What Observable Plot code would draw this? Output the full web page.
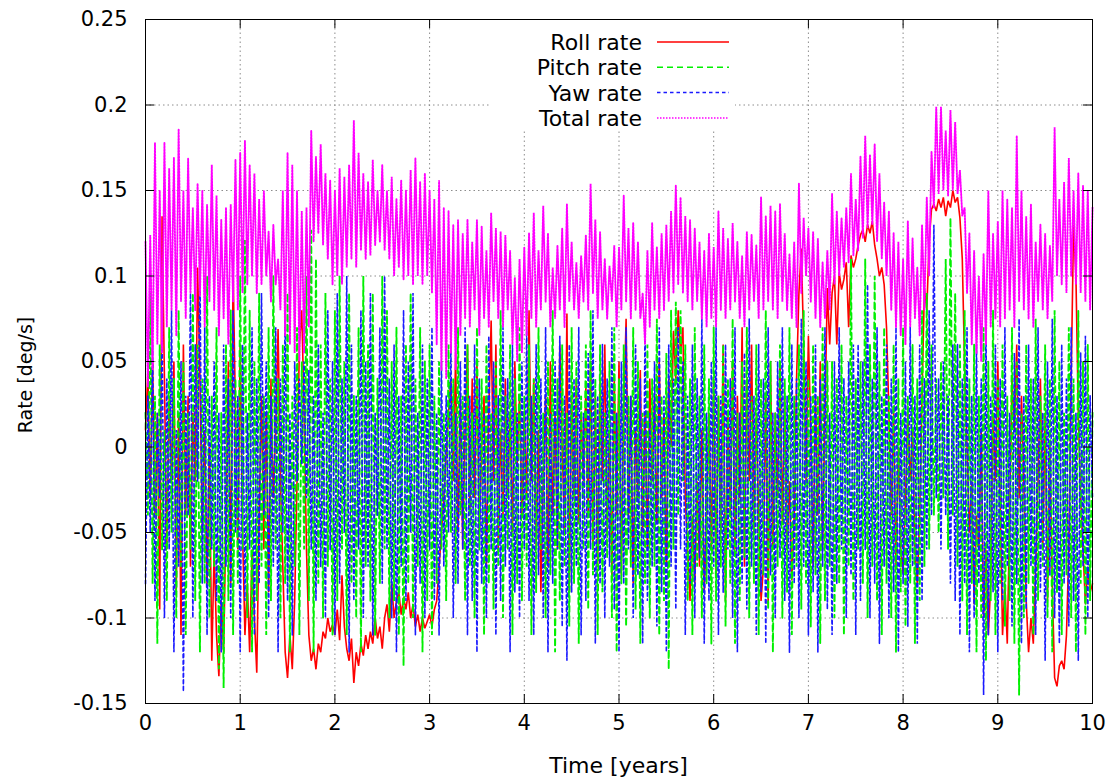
<!DOCTYPE html>
<html><head><meta charset="utf-8">
<script src="https://cdn.jsdelivr.net/npm/d3@7"></script>
<script src="https://cdn.jsdelivr.net/npm/@observablehq/plot@0.6"></script>
<style>html,body{margin:0;padding:0;background:#fff}#chart{width:1112px;height:778px}</style>
</head><body><div id="chart"></div>
<script>
// Samples every 0.025 years, values in units of 0.001 deg/s
const timeStep = 0.025;
const rollRate = [
10,45,-30,50,-40,20,-95,135,40,-60,30,-20,50,-85,20,-110,60,-40,30,-70,20,-20,105,40,-50,10,-81,0,-125,-60,-110,-134,-90,-120,-40,50,-80,105,20,-60,
60,-50,-110,-80,-120,-60,-100,-132,-40,30,-60,20,-85,40,-30,10,69,-20,-70,-120,-135,-110,-130,-90,-20,60,80,20,-60,-110,-125,-118,-130,-115,-120,-108,-112,-100,-108,-104,
-110,-95,-113,-75,-105,-118,-125,-112,-138,-120,-128,-115,-122,-110,-118,-108,-115,-100,-112,-105,-118,-100,-92,-108,-80,-100,-90,-85,-98,-88,-95,-85,-100,-92,-105,-98,-108,-100,-106,-102,
-98,-105,-95,-90,-70,-50,-30,-5,20,40,-20,55,-50,30,-60,10,60,-40,40,-30,50,-55,0,30,-70,20,74,-20,60,-60,10,-40,40,-30,20,-50,50,-10,30,-40,
20,-30,80,-20,40,-60,10,-85,-20,30,-70,50,-40,20,-60,60,0,-50,78,-85,30,-30,40,-45,20,-20,35,-40,50,-60,30,-70,40,-20,60,-50,10,-75,40,-40,
50,-75,20,75,-40,30,-80,10,-30,45,-50,20,-60,40,-20,30,-45,50,-30,20,-70,40,0,68,40,80,55,70,-30,-60,-90,-40,-80,-20,-70,10,-85,-40,20,-60,
40,-75,30,-50,60,-90,20,-40,50,-60,30,-30,70,-70,40,-20,60,-50,20,-40,-90,-70,30,-92,50,-60,20,-30,50,-45,30,-60,-20,-78,-40,40,90,116,60,-20,
65,10,-70,30,-40,50,-60,20,93,60,90,100,60,102,92,98,108,70,112,105,110,118,124,127,120,130,125,132,118,110,100,105,95,70,20,-40,20,-70,0,-60,
-74,-30,20,-20,10,-60,-80,-40,30,93,80,120,139,142,138,145,140,146,135,144,140,150,143,146,134,110,46,0,-50,-20,-92,-40,-60,10,-100,-60,-110,-80,20,-20,
50,-30,-110,-80,-115,-40,40,10,60,-30,30,-20,-90,-120,-100,-115,-70,-20,40,-60,20,-90,0,-80,-135,-140,-128,-125,-130,-110,-60,40,130,100,20,-30,-60,-92,-70,-85,
-80];
const pitchRate = [
20,-40,90,-80,30,-115,60,-60,10,-90,70,-50,40,-100,80,-70,50,-110,20,-60,90,-90,60,-120,40,-80,100,-100,30,-70,70,-130,20,-141,60,-90,80,-110,40,-80,
100,-60,121,-100,80,-120,50,-90,90,-70,30,-110,70,-90,100,-60,40,-100,60,-80,90,-120,30,-70,70,-110,50,-60,100,-90,127,-120,110,-80,60,-100,90,-70,40,-110,
80,-90,100,-60,50,-110,90,-80,30,-100,70,-120,100,-70,60,-90,90,-110,40,-80,100,-60,80,-100,50,-90,70,-110,30,-128,60,-80,90,-100,40,-70,70,-120,50,-90,
60,-110,30,-80,50,-60,20,-90,60,-50,40,-80,70,-40,30,-90,60,-70,20,-100,70,-60,40,-110,60,-80,20,-95,50,-70,80,-100,30,-60,60,-110,40,-80,70,-90,
30,-70,60,-110,40,-85,70,-60,20,-100,50,-75,80,-120,40,-90,60,-70,20,-105,70,-80,50,-115,30,-60,60,-95,80,-75,40,-110,60,-85,20,-65,50,-100,70,-120,
40,-80,60,-105,30,-70,70,-95,50,-115,20,-80,60,-100,40,-70,75,-110,30,-90,55,-130,80,-60,85,-40,80,-20,60,-90,40,-110,70,-70,30,-100,60,-80,40,-115,
70,-90,30,-70,60,-105,40,-80,75,-115,20,-90,50,-65,70,-100,30,-80,60,-110,40,-75,80,-95,50,-120,20,-70,60,-100,40,-85,70,-110,30,-70,60,-95,80,-80,
40,-105,60,-75,30,-115,70,-90,50,-70,50,-100,40,-80,60,-110,30,-70,110,-90,40,-60,50,-80,110,-100,60,-70,100,-90,50,-110,70,-80,30,-100,60,-120,40,-85,
70,-105,30,-80,60,-115,40,-90,80,-70,90,-60,60,-40,40,-50,50,-30,110,-60,134,-40,90,-70,60,-90,80,-110,40,-80,60,-120,30,-100,70,-125,50,-90,80,-110,
40,-80,60,-105,30,-90,70,-115,50,-145,20,-100,60,-80,40,-110,75,-90,30,-70,60,-100,40,-120,80,-85,50,-110,20,-75,70,-100,40,-120,80,-80,50,-110,60,-90,
20];
const yawRate = [
-80,30,-50,60,-90,20,-30,70,-100,40,-60,80,-120,10,-70,50,-143,30,-40,90,-100,60,-20,106,-80,70,-110,30,-60,50,-90,20,-120,60,-70,40,-100,80,-50,30,
-120,60,-90,20,-60,70,-110,40,-80,90,-40,50,-100,30,-70,70,-120,40,-50,80,-90,20,-110,50,-20,40,-10,50,-30,45,-60,30,-90,60,-70,20,-100,80,-60,50,
-110,90,-80,40,-50,100,-120,60,-90,30,-60,80,-100,50,-70,90,-110,20,-40,70,-80,100,-60,40,-100,60,-120,30,-70,80,-90,50,-50,90,-110,20,-80,60,-100,40,
-60,70,-90,20,-110,50,-70,30,-50,60,-100,20,-80,50,-60,70,-110,30,-90,60,-120,40,-80,20,-100,65,-60,50,-110,30,-90,70,-70,40,-120,60,-85,20,-100,50,
-60,70,-90,30,-110,60,-75,40,-100,70,-120,20,-80,50,-60,65,-105,30,-125,60,-85,40,-70,70,-110,20,-90,55,-60,80,-115,30,-80,60,-100,40,-70,70,-95,20,
-120,50,-80,70,-60,30,-100,60,-75,40,-115,75,-90,20,-70,50,-105,70,-85,30,-120,60,-70,40,-95,70,-60,50,-110,30,-80,60,-100,40,-65,75,-115,20,-90,50,
-70,70,-110,30,-85,60,-60,40,-100,70,-120,20,-80,55,-95,75,-70,30,-110,60,-85,40,-115,70,-75,20,-100,50,-65,70,-90,30,-120,60,-80,40,-100,75,-70,50,
-110,30,-85,60,-120,40,-70,70,-95,20,-110,50,-80,70,-60,40,-100,50,-75,60,-110,60,-90,50,-60,95,-100,40,-80,70,-115,30,-70,60,-100,40,-85,70,-120,20,
-80,50,-105,70,-70,30,-115,60,-90,40,-60,80,-40,130,-30,40,-60,50,-40,30,-80,60,-90,60,-110,40,-80,70,-120,30,-100,60,-80,40,-145,70,-110,30,-85,60,
-120,40,-90,70,-70,20,-105,55,-80,75,-115,30,-95,60,-70,40,-110,70,-85,20,-125,50,-75,75,-100,30,-115,60,-80,40,-105,70,-90,20,-125,55,-70,65,-100,30,
-30];
const totalRate = [
120,35,124,45,178,60,150,55,178,70,163,80,169,65,186,85,150,75,169,90,140,80,154,88,150,70,142,85,165,80,147,65,133,75,140,60,142,85,168,80,
172,90,179,95,165,100,160,90,145,95,150,100,126,85,130,95,110,80,150,65,172,60,165,55,150,50,138,55,140,70,185,120,170,125,177,118,160,110,156,95,
150,100,163,95,158,105,165,110,191,105,172,115,160,110,155,112,168,118,150,120,165,115,150,110,158,100,145,105,156,98,150,100,162,95,169,100,155,95,160,100,
150,90,145,60,156,45,140,40,138,55,130,45,133,65,125,75,133,70,120,80,133,65,129,75,115,70,137,85,128,75,126,70,124,80,115,60,99,50,110,55,
117,65,125,75,137,70,115,80,141,85,125,70,105,75,118,80,128,70,142,85,120,80,108,75,112,85,124,80,154,90,133,75,126,80,110,75,106,85,118,70,
117,80,147,85,128,75,131,80,120,75,90,60,115,70,131,80,117,75,125,80,130,85,138,90,153,95,146,90,135,85,133,80,128,85,120,75,115,70,125,75,
117,70,138,80,128,75,122,80,131,85,120,75,112,70,126,80,124,85,118,75,146,80,135,85,141,80,138,75,142,85,125,80,113,75,120,70,154,90,134,100,
128,85,126,75,122,70,108,75,115,80,148,95,138,100,134,105,140,108,160,112,145,115,170,122,182,128,171,130,177,120,160,110,143,100,138,80,125,70,120,65,
110,60,132,70,122,75,105,65,130,80,146,100,173,140,199,148,199,150,185,147,197,150,190,148,162,135,140,90,125,60,115,55,100,50,113,60,150,70,125,75,
132,70,150,75,145,80,140,70,182,85,150,80,135,75,142,70,120,85,130,80,125,75,118,85,187,100,145,95,155,90,169,100,150,95,160,90,153,85,150,80,
140];

const seriesNames = ["Roll rate", "Pitch rate", "Yaw rate", "Total rate"];
const seriesValues = [rollRate, pitchRate, yawRate, totalRate];
const seriesColors = ["#ff0000", "#00f000", "#1a1aff", "#ff00ff"];
const seriesDash = [null, "6,4", "3.5,3", "1.5,1.5"];
const seriesWidth = [1.6, 1.9, 1.6, 1.9];

const xTicks = [0,1,2,3,4,5,6,7,8,9,10];
const xTickLabels = ["0","1","2","3","4","5","6","7","8","9","10"];
const yTicks = [-0.15,-0.1,-0.05,0,0.05,0.1,0.15,0.2,0.25];
const yTickLabels = ["-0.15","-0.1","-0.05","0","0.05","0.1","0.15","0.2","0.25"];
const xGrid = [1,2,3,4,5,6,7,8,9];
const yGrid = [-0.1,-0.05,0,0.05,0.1,0.15,0.2];
const xLabel = "Time [years]";
const yLabel = "Rate [deg/s]";

const W = 1112, H = 778, mL = 145, mR = 20, mT = 19, mB = 75;
const pxPerYear = (W - mL - mR) / 10;
const pxPerUnit = (H - mT - mB) / 0.4;
const tickLenX = 9 / pxPerYear, tickLenY = 9 / pxPerUnit;

const lineMarks = seriesValues.map((vals, k) => Plot.line(vals, {
  x: (d, i) => i * timeStep,
  y: d => d / 1000,
  stroke: seriesColors[k],
  strokeWidth: seriesWidth[k],
  strokeDasharray: seriesDash[k] || undefined,
  strokeLinejoin: "miter"
}));

const gridStyle = {stroke: "#8c8c8c", strokeOpacity: 1, strokeWidth: 1, strokeDasharray: "1.5,3"};

const chart = Plot.plot({
  width: W, height: H,
  marginLeft: mL, marginRight: mR, marginTop: mT, marginBottom: mB,
  style: {fontFamily: "DejaVu Sans", fontSize: "21px", background: "white", color: "black"},
  x: {domain: [0, 10]},
  y: {domain: [-0.15, 0.25]},
  marks: [
    Plot.ruleX(xGrid, gridStyle),
    Plot.ruleY(yGrid, gridStyle),
    ...lineMarks,
    Plot.ruleY(yTicks, {x1: 0, x2: tickLenX, stroke: "black"}),
    Plot.ruleY(yTicks, {x1: 10 - tickLenX, x2: 10, stroke: "black"}),
    Plot.ruleX(xTicks, {y1: -0.15, y2: -0.15 + tickLenY, stroke: "black"}),
    Plot.ruleX(xTicks, {y1: 0.25 - tickLenY, y2: 0.25, stroke: "black"}),
    Plot.axisX({ticks: xTicks, tickFormat: d => xTickLabels[xTicks.indexOf(d)], tickSize: 0, tickPadding: 12, label: null}),
    Plot.axisY({ticks: yTicks, tickFormat: d => yTickLabels[yTicks.indexOf(d)], tickSize: 0, tickPadding: 18, label: null}),
    Plot.frame({stroke: "black", strokeWidth: 1})
  ]
});
document.getElementById("chart").appendChild(chart);

const svg = d3.select(chart);
// axis titles
svg.append("text").attr("x", mL + (W - mL - mR) / 2).attr("y", 773)
  .attr("text-anchor", "middle").attr("font-size", 22).attr("fill", "black").text(xLabel);
svg.append("text").attr("transform", `translate(32,${mT + (H - mT - mB) / 2 + 14}) rotate(-90)`)
  .attr("text-anchor", "middle").attr("font-size", 19).attr("fill", "black").text(yLabel);

// key (top centre, like gnuplot)
const key = svg.append("g");
key.append("rect").attr("x", 490).attr("y", 20).attr("width", 245).attr("height", 110).attr("fill", "white");
seriesNames.forEach((name, k) => {
  const yy = 42 + k * 25.3;
  key.append("text").attr("x", 642).attr("y", yy).attr("dy", "0.36em")
    .attr("text-anchor", "end").attr("font-size", 22).attr("fill", "black").text(name);
  const ln = key.append("line").attr("x1", 657).attr("x2", 729).attr("y1", yy).attr("y2", yy)
    .attr("stroke", seriesColors[k]).attr("stroke-width", 1.5);
  if (seriesDash[k]) ln.attr("stroke-dasharray", seriesDash[k]);
});
</script>
</body></html>
